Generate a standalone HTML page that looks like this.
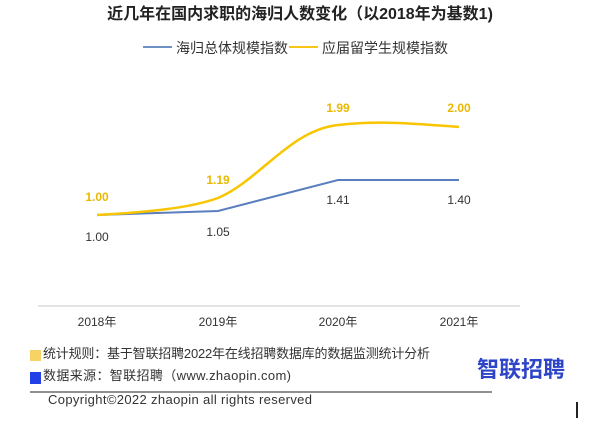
<!DOCTYPE html>
<html><head><meta charset="utf-8"><style>
body{margin:0;background:#fff;width:600px;height:426px;overflow:hidden}
svg text{font-family:"Liberation Sans","Noto Sans CJK SC",sans-serif}
</style></head><body>
<svg width="600" height="426" viewBox="0 0 600 426">
<text x="300" y="19" text-anchor="middle" font-size="16" font-weight="bold" fill="#222">近几年在国内求职的海归人数变化（以2018年为基数1)</text>
<line x1="143" y1="47" x2="172" y2="47" stroke="#6f90c2" stroke-width="2"/>
<text x="176" y="53" font-size="14" fill="#333">海归总体规模指数</text>
<line x1="289" y1="47" x2="318" y2="47" stroke="#f5c518" stroke-width="2"/>
<text x="322" y="53" font-size="14" fill="#333">应届留学生规模指数</text>
<line x1="38" y1="306" x2="520" y2="306" stroke="#c8c8c8" stroke-width="1"/>
<path d="M97,215 L218,211 L338,180 L459,180" fill="none" stroke="#5b7fbe" stroke-width="2"/>
<path d="M97,215 C150,212 190,208 218,198 C260,180 290,130 338,125 C380,120 420,124 459,127" fill="none" stroke="#f7c600" stroke-width="2.5"/>
<g font-size="12" font-weight="bold" fill="#e9b800" text-anchor="middle">
<text x="97" y="201">1.00</text><text x="218" y="184">1.19</text><text x="338" y="112">1.99</text><text x="459" y="112">2.00</text></g>
<g font-size="12" fill="#333" text-anchor="middle">
<text x="97" y="241">1.00</text><text x="218" y="236">1.05</text><text x="338" y="204">1.41</text><text x="459" y="204">1.40</text></g>
<g font-size="12" fill="#333" text-anchor="middle">
<text x="97" y="326">2018年</text><text x="218" y="326">2019年</text><text x="338" y="326">2020年</text><text x="459" y="326">2021年</text></g>
<rect x="30" y="350" width="11" height="11" fill="#f7d265"/>
<text x="43" y="358" font-size="13" fill="#333" textLength="387">统计规则：基于智联招聘2022年在线招聘数据库的数据监测统计分析</text>
<rect x="30" y="372" width="11" height="12" fill="#2340e6"/>
<text x="43" y="380" font-size="13" fill="#333" textLength="248">数据来源：智联招聘（www.zhaopin.com)</text>
<text x="477" y="377" font-size="22" font-weight="bold" fill="#2f45c8" textLength="88">智联招聘</text>
<line x1="30" y1="392" x2="492" y2="392" stroke="#222" stroke-width="1"/>
<text x="48" y="404" font-size="13" fill="#333" textLength="264">Copyright©2022 zhaopin all rights reserved</text>
<line x1="577" y1="402" x2="577" y2="418" stroke="#222" stroke-width="2"/>
</svg>
</body></html>
